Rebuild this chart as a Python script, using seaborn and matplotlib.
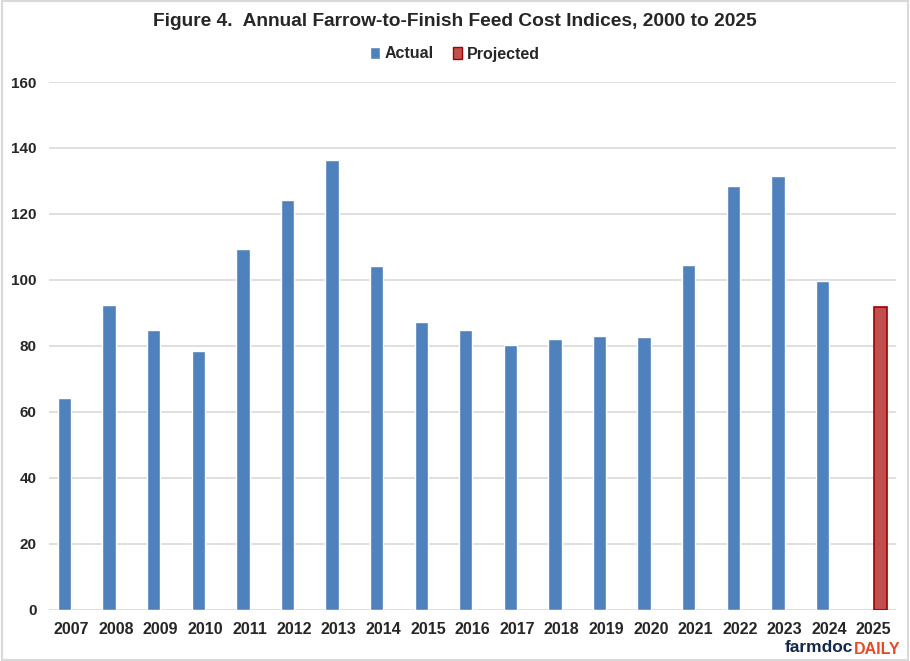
import numpy as np
import pandas as pd
import seaborn as sns
import matplotlib
matplotlib.use("Agg")
import matplotlib.pyplot as plt
from matplotlib.patches import Rectangle

# values
years = [str(y) for y in range(2007, 2026)]
actual = [64.1, 92.4, 84.8, 78.3, 109.4, 124.3, 136.4, 104.2, 87.2, 84.8,
          80.2, 82.0, 82.9, 82.7, 104.5, 128.5, 131.6, 99.7, np.nan]
projected = [np.nan] * 18 + [91.7]

df = pd.DataFrame({'year': years, 'Actual': actual, 'Projected': projected})
df = df.melt(id_vars='year', var_name='series', value_name='index')

sns.set_style("white")
plt.rcParams['font.family'] = ['Liberation Sans', 'DejaVu Sans']
plt.rcParams['font.weight'] = 'bold'

fig = plt.figure(figsize=(9.1, 6.61), dpi=100)
ax = fig.add_axes([49/910, 1 - 609.5/661, (896-49)/910, (609.5-82)/661])

sns.barplot(data=df, x='year', y='index', hue='series', hue_order=['Actual', 'Projected'],
            palette={'Actual': '#4F81BD', 'Projected': '#C0504D'}, width=0.6,
            saturation=1, dodge=True, ax=ax, legend=False)

# red bar gets a darker outline
for p in ax.patches:
    if p.get_facecolor()[0] > 0.6:
        p.set_edgecolor('#A00000')
        p.set_linewidth(1.2)

ax.set_ylim(0, 160)
ax.set_yticks(range(0, 161, 20))
ax.yaxis.grid(True, color='#D9D9D9', linewidth=1.2)
ax.set_axisbelow(True)
for s in ax.spines.values():
    s.set_visible(False)
ax.tick_params(length=0, labelsize=11.5)
ax.tick_params(axis='y', pad=9, labelsize=11)
ax.tick_params(axis='x', pad=9)
for lab in ax.get_xticklabels() + ax.get_yticklabels():
    lab.set_fontweight('bold')
ax.set_xlabel('')
ax.set_ylabel('')

fig.text(0.5, 1 - 22/661, 'Figure 4.  Annual Farrow-to-Finish Feed Cost Indices, 2000 to 2025',
         ha='center', va='center', fontsize=13.8, fontweight='bold')

handles = [Rectangle((0, 0), 1, 1, facecolor='#4F81BD'),
           Rectangle((0, 0), 1, 1, facecolor='#C0504D', edgecolor='#A00000')]
fig.legend(handles, ['Actual', 'Projected'], loc='center', bbox_to_anchor=(0.5, 1 - 54/661),
           ncol=2, frameon=False, handlelength=0.6, handleheight=0.7,
           handletextpad=0.3, columnspacing=1.2, prop={'weight': 'bold', 'size': 11.5})

# farmdoc daily logo
fig.text(853/910, 1 - 648/661, 'farmdoc', ha='right', va='center', fontsize=12.5,
         fontweight='bold', color='#13294B')
fig.text(854/910, 1 - 649/661, 'DAILY', ha='left', va='center', fontsize=11.5,
         fontweight='bold', color='#E84A27')

fig.patches.append(Rectangle((0.002, 0.002), 0.996, 0.996, transform=fig.transFigure,
                             fill=False, edgecolor='#D9D9D9', linewidth=1.5))

fig.savefig('out.png', dpi=100)
